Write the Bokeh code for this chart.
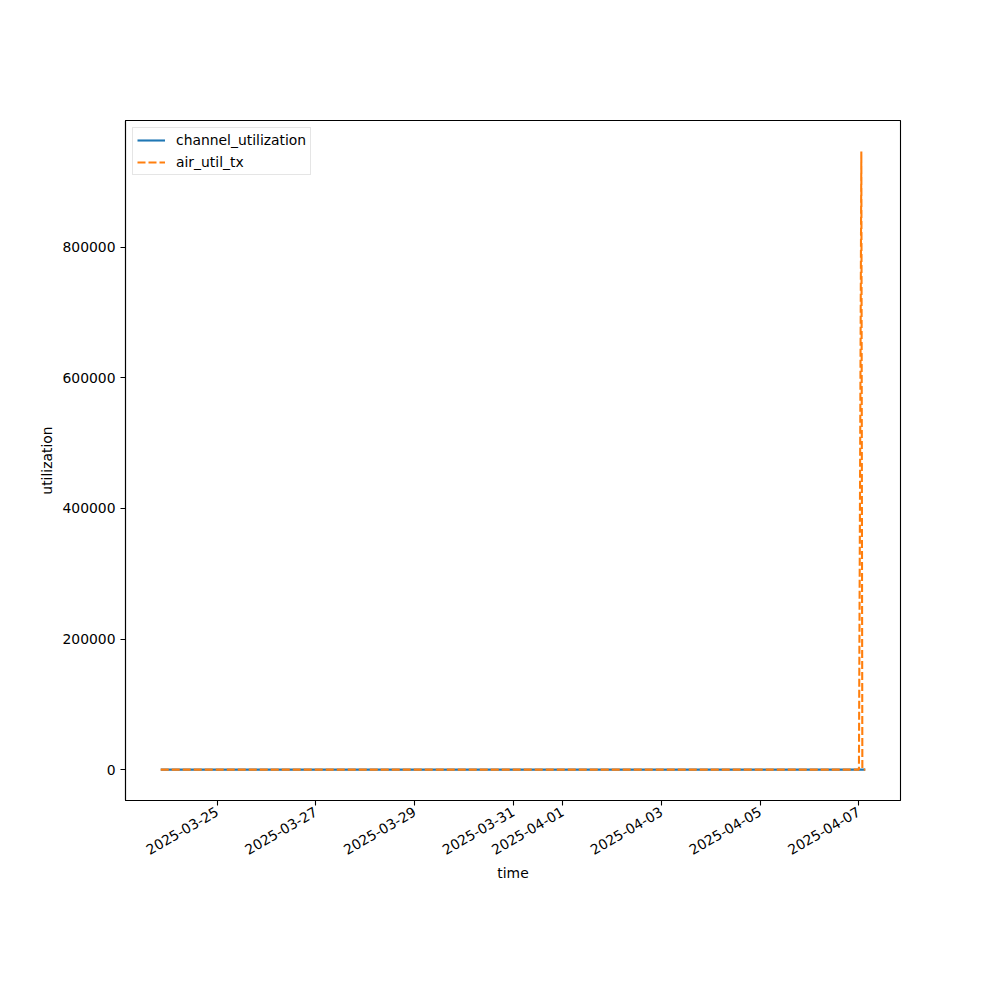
import math
import pandas as pd
from bokeh.plotting import figure
from bokeh.models import (Range1d, FixedTicker, DatetimeTickFormatter,
                          NumeralTickFormatter, Legend, LegendItem, ColumnDataSource)
from bokeh.embed import file_html
from bokeh.resources import INLINE

# Sampled device telemetry
times = [
    "2025-03-23 20:30", "2025-03-24 14:00", "2025-03-25 09:00", "2025-03-26 11:00",
    "2025-03-27 16:00", "2025-03-28 21:00", "2025-03-30 03:00", "2025-03-31 08:00",
    "2025-04-01 12:00", "2025-04-02 18:00", "2025-04-03 22:00", "2025-04-05 04:00",
    "2025-04-06 09:00", "2025-04-07 00:00", "2025-04-07 01:10", "2025-04-07 01:40",
    "2025-04-07 03:05",
]
channel_utilization = [12.4, 9.8, 14.1, 11.3, 10.6, 13.2, 8.9, 12.0,
                       15.3, 10.1, 11.7, 9.4, 13.8, 12.6, 14.0, 11.9, 10.8]
air_util_tx = [1.2, 0.9, 1.5, 1.1, 0.8, 1.3, 0.7, 1.0,
               1.6, 0.9, 1.2, 0.8, 1.4, 1.1, 947000.0, 1.3, 0.9]

tick_dates = ["2025-03-25", "2025-03-27", "2025-03-29", "2025-03-31",
              "2025-04-01", "2025-04-03", "2025-04-05", "2025-04-07"]
y_ticks = [0, 200000, 400000, 600000, 800000]

t = pd.to_datetime(times)
src = ColumnDataSource(dict(t=t, cu=channel_utilization, air=air_util_tx))

# axis limits with a 5% margin around the data, like an autoscaled plot
t_ms = t.astype("int64") // 10**6
t0, t1 = float(t_ms.min()), float(t_ms.max())
xpad = 0.05 * (t1 - t0)
ymin = min(min(channel_utilization), min(air_util_tx))
ymax = max(max(channel_utilization), max(air_util_tx))
ypad = 0.05 * (ymax - ymin)

FONT = "DejaVu Sans"
FS = "13.9px"

p = figure(width=1000, height=1000, output_backend="svg", toolbar_location=None,
           x_axis_type="datetime",
           x_range=Range1d(t0 - xpad, t1 + xpad),
           y_range=Range1d(ymin - ypad, ymax + ypad),
           min_border_left=125, min_border_right=100,
           min_border_top=120, min_border_bottom=200)
p.background_fill_color = "white"
p.border_fill_color = "white"
p.outline_line_color = "black"
p.outline_line_width = 1.1
p.xgrid.visible = False
p.ygrid.visible = False

r1 = p.line("t", "cu", source=src, line_color="#1f77b4", line_width=2.1)
r2 = p.line("t", "air", source=src, line_color="#ff7f0e", line_width=2.1,
            line_dash="8 3")

tick_ms = [float(v) for v in (pd.to_datetime(tick_dates).astype("int64") // 10**6)]
p.xaxis.ticker = FixedTicker(ticks=tick_ms)
fmt = "%Y-%m-%d"
p.xaxis.formatter = DatetimeTickFormatter(days=fmt, months=fmt, hours=fmt,
                                          hourmin=fmt, years=fmt, minutes=fmt)
p.xaxis.major_label_orientation = math.pi / 6
p.yaxis.ticker = FixedTicker(ticks=y_ticks)
p.yaxis.formatter = NumeralTickFormatter(format="0")

for ax in (p.xaxis, p.yaxis):
    ax.axis_line_color = "black"
    ax.axis_line_width = 1.1
    ax.major_tick_line_color = "black"
    ax.major_tick_line_width = 1.1
    ax.major_tick_out = 5
    ax.major_tick_in = 0
    ax.minor_tick_line_color = None
    ax.major_label_text_font = FONT
    ax.major_label_text_font_size = FS
    ax.major_label_text_color = "black"
    ax.major_label_standoff = 5
    ax.axis_label_text_font = FONT
    ax.axis_label_text_font_size = FS
    ax.axis_label_text_font_style = "normal"
    ax.axis_label_text_color = "black"

p.xaxis.axis_label = "time"
p.yaxis.axis_label = "utilization"
p.xaxis.axis_label_standoff = 2
p.yaxis.axis_label_standoff = 4

legend = Legend(items=[LegendItem(label="channel_utilization", renderers=[r1]),
                       LegendItem(label="air_util_tx", renderers=[r2])],
                location="top_left")
legend.label_text_font = FONT
legend.label_text_font_size = FS
legend.label_text_color = "black"
legend.border_line_color = "#cccccc"
legend.border_line_width = 1
legend.background_fill_alpha = 0.8
legend.margin = 7
legend.padding = 4
legend.spacing = 6
legend.glyph_height = 14
legend.label_height = 14
legend.glyph_width = 28
legend.label_standoff = 11
p.add_layout(legend)

open("out.html", "w").write(file_html(p, INLINE))
